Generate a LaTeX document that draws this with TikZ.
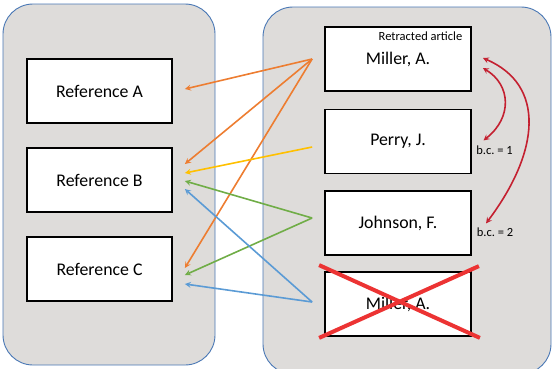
\documentclass[tikz,border=0pt]{standalone}
\usepackage{fontspec}
\setmainfont{Carlito}
\usetikzlibrary{calc, positioning}

\definecolor{panelgray}{HTML}{DEDCDA}
\definecolor{panelblue}{HTML}{4A78B5}
\definecolor{corange}{HTML}{ED7D31}
\definecolor{cyellow}{HTML}{FFC000}
\definecolor{cgreen}{HTML}{70AD47}
\definecolor{cblue}{HTML}{5B9BD5}
\definecolor{cdarkred}{HTML}{C42030}
\definecolor{cred}{HTML}{EC3333}

\begin{document}
\begin{tikzpicture}[x=1pt, y=-1pt, >=stealth,
  panel/.style={draw=panelblue, line width=0.9pt, fill=panelgray, rounded corners=30pt},
  refbox/.style={draw, line width=1.8pt, fill=white, minimum width=145pt, minimum height=64pt,
    font=\fontsize{17.8}{20}\selectfont},
  cite/.style={->, line width=1.6pt},
  bcarrow/.style={<->, line width=1.6pt, cdarkred},
  small/.style={font=\fontsize{12.5}{14}\selectfont, inner sep=0pt}]
  \useasboundingbox (0,0) rectangle (553,368);
  % two panels
  \draw[panel] (3,4) rectangle (215,365);
  \draw[panel] (263,7) rectangle (551,374);
  % references (left)
  \node[refbox] (ra) at (99.5,91) {Reference A};
  \node[refbox] (rb) at (99.5,180) {Reference B};
  \node[refbox] (rc) at (99.5,269) {Reference C};
  % citing articles (right)
  \node[refbox, minimum width=146pt] (ma) at (398,59) {Miller, A.};
  \node[refbox, minimum width=146pt] (pj) at (398,141.5) {Perry, J.};
  \node[refbox, minimum width=146pt] (jf) at (398,223) {Johnson, F.};
  \node[refbox, minimum width=146pt] (mb) at (398,304) {Miller, A.};
  \node[small] (ret) at (420.5,36.5) {Retracted article};
  \node[small] (bc1) at (494.5,150) {b.c.\ = 1};
  \node[small] (bc2) at (495,232) {b.c.\ = 2};
  % citations
  \draw[cite, corange] ([xshift=-12pt]ma.west) -- ([xshift=12pt,yshift=2pt]ra.east);
  \draw[cite, corange] ([xshift=-12pt]ma.west) -- ([xshift=12pt,yshift=16pt]rb.east);
  \draw[cite, corange] ([xshift=-12pt]ma.west) -- ([xshift=12pt,yshift=1pt]rc.east);
  \draw[cite, cyellow] ([xshift=-12pt,yshift=-5.5pt]pj.west) -- ([xshift=12pt,yshift=7pt]rb.east);
  \draw[cite, cgreen] ([xshift=-12pt,yshift=5pt]jf.west) -- ([xshift=12pt,yshift=-1pt]rb.east);
  \draw[cite, cgreen] ([xshift=-12pt,yshift=5pt]jf.west) -- ([xshift=12pt,yshift=-6pt]rc.east);
  \draw[cite, cblue] ([xshift=-12pt,yshift=2pt]mb.west) -- ([xshift=12pt,yshift=-9pt]rb.east);
  \draw[cite, cblue] ([xshift=-12pt,yshift=2pt]mb.west) -- ([xshift=12pt,yshift=-15pt]rc.east);
  % bibliographic coupling
  \coordinate (s1) at ([xshift=11pt,yshift=-9pt]ma.east);
  \coordinate (s2) at ([xshift=11pt,yshift=1pt]ma.east);
  \coordinate (e1) at ([xshift=-11pt,yshift=5pt]bc1.north);
  \coordinate (e2) at ([xshift=-9pt,yshift=4pt]bc2.north);
  \draw[bcarrow] (s1) .. controls ($(s1)+(28,17)$) and ($(e1)+(29,-23)$) .. (e1);
  \draw[bcarrow] (s2) .. controls ($(s2)+(63,27)$) and ($(e2)+(54,-72)$) .. (e2);
  % retracted copy crossed out
  \draw[cred, line width=4pt] ([xshift=-5pt,yshift=6pt]mb.north west) -- ([xshift=8pt,yshift=-1pt]mb.south east);
  \draw[cred, line width=4pt] ([xshift=7pt,yshift=5pt]mb.north east) -- ([xshift=-5pt,yshift=-1pt]mb.south west);
\end{tikzpicture}
\end{document}
